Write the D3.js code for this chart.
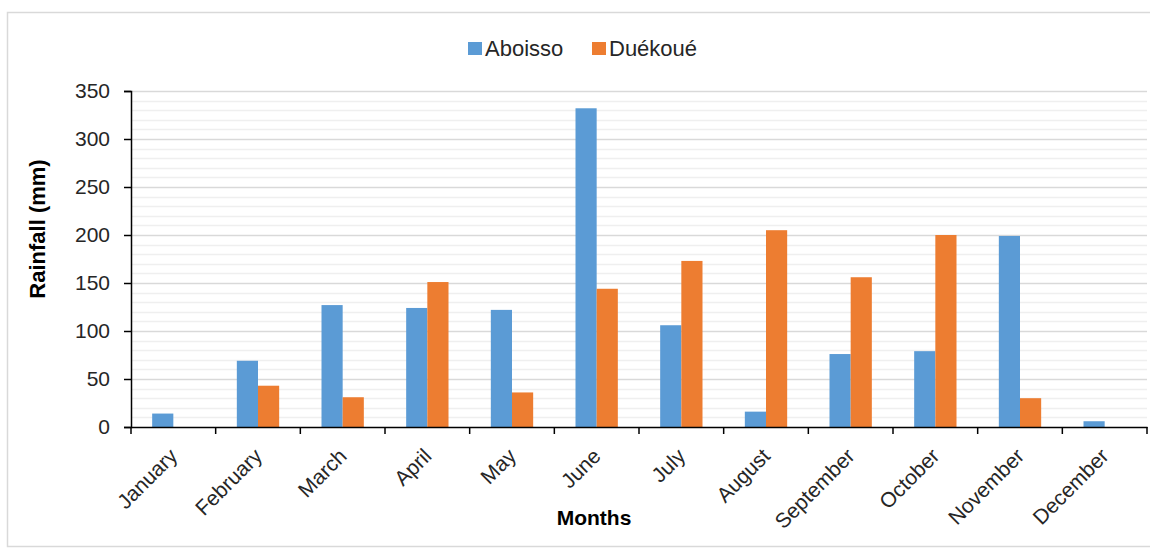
<!DOCTYPE html>
<html>
<head>
<meta charset="utf-8">
<script src="https://cdn.jsdelivr.net/npm/d3@7"></script>
<style>
  body { margin: 0; background: #fff; }
  text { font-family: "Liberation Sans", Arial, sans-serif; }
</style>
</head>
<body>
<script>
// Chart data
const months = ["January", "February", "March", "April", "May", "June", "July", "August", "September", "October", "November", "December"];
const aboisso = [14, 69, 127, 124, 122, 332, 106, 16, 76, 79, 199, 6];
const duekoue = [0, 43, 31, 151, 36, 144, 173, 205, 156, 200, 30, 0];
const seriesNames = ["Aboisso", "Duékoué"];
const yTicks = [0, 50, 100, 150, 200, 250, 300, 350];

// Constants
const w = 1150;
const h = 548;
const colors = ["#5b9bd5", "#ed7d31"];
const margin = { left: 131, right: 3, top: 91, bottom: 121 };

const svg = d3.select('body')
  .append('svg')
  .attr('width', w)
  .attr('height', h);

// Outer frame
svg.append('rect')
  .attr('x', 7.5)
  .attr('y', 12.5)
  .attr('width', 1160)
  .attr('height', 534)
  .attr('fill', 'none')
  .attr('stroke', '#d9d9d9')
  .attr('stroke-width', 1.5);

// Scales
const xScale = d3.scaleBand()
  .domain(months)
  .range([margin.left, w - margin.right])
  .padding(0);

const inner = d3.scaleBand()
  .domain(seriesNames)
  .range([xScale.bandwidth() * 0.25, xScale.bandwidth() * 0.75])
  .padding(0);

const yScale = d3.scaleLinear()
  .domain([0, 350])
  .range([h - margin.bottom, margin.top]);

// Gridlines: minor every 10, major every 50
const minor = d3.range(10, 351, 10).filter(v => v % 50 !== 0);
svg.append('g')
  .selectAll('line')
  .data(minor)
  .enter()
  .append('line')
  .attr('x1', margin.left)
  .attr('x2', w - margin.right)
  .attr('y1', d => Math.round(yScale(d)) + 0.5)
  .attr('y2', d => Math.round(yScale(d)) + 0.5)
  .attr('stroke', '#efefef')
  .attr('stroke-width', 1.5);

svg.append('g')
  .selectAll('line')
  .data(yTicks.filter(v => v > 0))
  .enter()
  .append('line')
  .attr('x1', margin.left)
  .attr('x2', w - margin.right)
  .attr('y1', d => Math.round(yScale(d)) + 0.5)
  .attr('y2', d => Math.round(yScale(d)) + 0.5)
  .attr('stroke', '#d9d9d9')
  .attr('stroke-width', 1.5);

// Bars
const rows = months.map((m, i) => ({ month: m, values: [aboisso[i], duekoue[i]] }));

svg.append('g')
  .selectAll('g')
  .data(rows)
  .enter()
  .append('g')
  .attr('transform', d => 'translate(' + xScale(d.month) + ',0)')
  .selectAll('rect')
  .data(d => d.values.map((v, k) => ({ name: seriesNames[k], value: v, k: k })))
  .enter()
  .append('rect')
  .attr('x', d => inner(d.name))
  .attr('width', inner.bandwidth())
  .attr('y', d => yScale(d.value))
  .attr('height', d => yScale(0) - yScale(d.value))
  .attr('fill', d => colors[d.k]);

// Axes
const xAxis = d3.axisBottom(xScale)
  .tickSize(0)
  .tickFormat('');

const gx = svg.append('g')
  .attr('transform', 'translate(0,' + yScale(0) + ')')
  .call(xAxis);
gx.select('.domain').attr('stroke', '#000').attr('stroke-width', 1.5);

// category boundary ticks
svg.append('g')
  .selectAll('line')
  .data(months.concat(['end']))
  .enter()
  .append('line')
  .attr('x1', (d, i) => i < months.length ? xScale(d) : w - margin.right)
  .attr('x2', (d, i) => i < months.length ? xScale(d) : w - margin.right)
  .attr('y1', yScale(0))
  .attr('y2', yScale(0) + 7)
  .attr('stroke', '#000')
  .attr('stroke-width', 1.5);

// rotated month labels
svg.append('g')
  .selectAll('text')
  .data(months)
  .enter()
  .append('text')
  .attr('transform', d => 'translate(' + (xScale(d) + xScale.bandwidth() / 2 - 5) + ',' + (yScale(0) + 20) + ') rotate(-45)')
  .attr('text-anchor', 'end')
  .attr('dy', '0.7em')
  .attr('font-size', 21)
  .attr('fill', '#262626')
  .text(d => d);

const yAxis = d3.axisLeft(yScale)
  .tickValues(yTicks)
  .tickSize(7)
  .tickPadding(14);

const gy = svg.append('g')
  .attr('transform', 'translate(' + margin.left + ',0)')
  .call(yAxis);
gy.select('.domain').attr('stroke', '#000').attr('stroke-width', 1.5);
gy.selectAll('.tick line').attr('stroke', '#000').attr('stroke-width', 1.5);
gy.selectAll('.tick text')
  .attr('font-size', 21)
  .attr('fill', '#262626')
  .style('font-family', '"Liberation Sans", Arial, sans-serif');

// Axis titles
svg.append('text')
  .attr('x', 594)
  .attr('y', 525)
  .attr('text-anchor', 'middle')
  .attr('font-size', 21)
  .attr('font-weight', 'bold')
  .attr('fill', '#000')
  .text('Months');

svg.append('text')
  .attr('transform', 'translate(45,229) rotate(-90)')
  .attr('text-anchor', 'middle')
  .attr('font-size', 22)
  .attr('font-weight', 'bold')
  .attr('fill', '#000')
  .text('Rainfall (mm)');

// Legend
const legendX = [468, 592];
const legend = svg.append('g')
  .selectAll('g')
  .data(seriesNames)
  .enter()
  .append('g')
  .attr('transform', (d, i) => 'translate(' + legendX[i] + ',42)');

legend.append('rect')
  .attr('width', 14)
  .attr('height', 13)
  .attr('fill', (d, i) => colors[i]);

legend.append('text')
  .attr('x', 17)
  .attr('y', 14)
  .attr('font-size', 22)
  .attr('fill', '#262626')
  .text(d => d);
</script>
</body>
</html>
